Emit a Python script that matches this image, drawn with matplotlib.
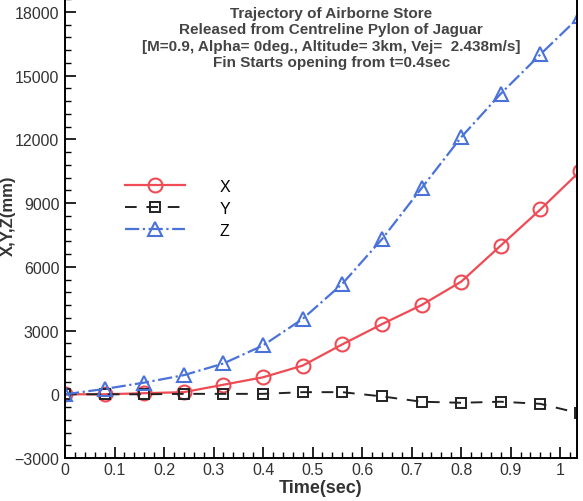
import numpy as np
import matplotlib
matplotlib.use("Agg")
import matplotlib.pyplot as plt
from matplotlib.ticker import MultipleLocator

plt.rcParams['font.family'] = ['Liberation Sans', 'DejaVu Sans']

# time samples (sec)
t = [0.0, 0.08, 0.16, 0.24, 0.32, 0.40, 0.48, 0.56, 0.64, 0.72, 0.80, 0.88, 0.96, 1.04]
# displacements (mm)
x_disp = [0, 0, 50, 100, 450, 800, 1350, 2350, 3300, 4200, 5300, 7000, 8700, 10500]
y_disp = [0, 0, 0, 20, 20, 20, 100, 100, -100, -350, -400, -350, -450, -900]
z_disp = [0, 250, 550, 900, 1450, 2300, 3550, 5200, 7300, 9700, 12100, 14150, 16000, 17800]

title_lines = ["Trajectory of Airborne Store",
               "Released from Centreline Pylon of Jaguar",
               "[M=0.9, Alpha= 0deg., Altitude= 3km, Vej=  2.438m/s]",
               "Fin Starts opening from t=0.4sec"]

fig = plt.figure(figsize=(5.83, 5.02), dpi=100)
ax = fig.add_axes([65/583, 43/502, 512/583, 459/502])

ax.plot(t, x_disp, "-", color="#ee4b55", lw=1.6, marker="o", markersize=10,
        markerfacecolor="none", markeredgewidth=1.5, label="X")
ax.plot(t, y_disp, "--", color="#222222", lw=1.4, marker="s", markersize=7,
        markerfacecolor="none", markeredgewidth=1.4, dashes=(6, 5), label="Y")
ax.plot(t, z_disp, "-.", color="#4a72d8", lw=1.6, marker="^", markersize=9.5,
        markerfacecolor="none", markeredgewidth=1.5, label="Z")

ax.set_xlim(0, 1.034)
ax.set_ylim(-3000, 18610)
ax.xaxis.set_minor_locator(MultipleLocator(0.02))
ax.yaxis.set_major_locator(MultipleLocator(3000))
ax.yaxis.set_minor_locator(MultipleLocator(600))
ax.set_xticks(np.arange(0, 1.01, 0.1))
ax.set_xticklabels(["0", "0.1", "0.2", "0.3", "0.4", "0.5", "0.6", "0.7", "0.8", "0.9", "1"])
ax.tick_params(which="major", direction="in", length=8, width=1.2, labelsize=11.5,
               labelcolor="#333333", pad=4)
ax.tick_params(which="minor", direction="in", length=4, width=1.0)
ax.tick_params(axis="x", pad=3)
for s in ax.spines.values():
    s.set_linewidth(1.4)
ax.spines["top"].set_visible(False)

ax.set_xlabel("Time(sec)", fontsize=13, fontweight="bold", color="#333333", labelpad=1)
fig.text(1/583, 0.57, "X,Y,Z(mm)", rotation=90, ha="left", va="center",
         fontsize=12, fontweight="bold", color="#333333")

for i, line in enumerate(title_lines):
    ax.text(0.52, 0.985 - i * 0.036, line, transform=ax.transAxes, ha="center", va="top",
            fontsize=11, fontweight="bold", color="#444444")

ax.legend(loc="upper left", bbox_to_anchor=(0.09, 0.64), frameon=False, fontsize=11.5,
          handlelength=3.7, labelspacing=0.45, handletextpad=2.2)

fig.savefig("out.png", dpi=100)
